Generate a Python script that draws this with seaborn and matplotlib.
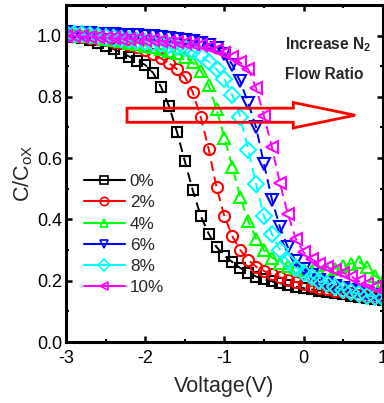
import matplotlib
matplotlib.use("Agg")
import matplotlib.pyplot as plt
import pandas as pd
import seaborn as sns
from matplotlib.lines import Line2D
from matplotlib.patches import FancyArrow
from matplotlib.ticker import MultipleLocator

# Gate voltage sweep (V)
voltage = [-3.0, -2.9, -2.8, -2.7, -2.6, -2.5, -2.4, -2.3, -2.2, -2.1,
           -2.0, -1.9, -1.8, -1.7, -1.6, -1.5, -1.4, -1.3, -1.2, -1.1,
           -1.0, -0.9, -0.8, -0.7, -0.6, -0.5, -0.4, -0.3, -0.2, -0.1,
           0.0, 0.1, 0.2, 0.3, 0.4, 0.5, 0.6, 0.7, 0.8, 0.9, 1.0]

# Normalised capacitance C/Cox for each N2 flow ratio
c_0pct = [1.000, 0.996, 0.991, 0.984, 0.975, 0.966, 0.956, 0.944, 0.931, 0.918,
          0.904, 0.878, 0.832, 0.770, 0.686, 0.590, 0.495, 0.412, 0.354, 0.310,
          0.282, 0.261, 0.242, 0.226, 0.214, 0.205, 0.198, 0.192, 0.186, 0.181,
          0.176, 0.172, 0.168, 0.164, 0.160, 0.156, 0.152, 0.148, 0.144, 0.140, 0.136]
c_2pct = [1.000, 0.998, 0.995, 0.992, 0.988, 0.984, 0.980, 0.975, 0.969, 0.962,
          0.953, 0.940, 0.925, 0.910, 0.890, 0.865, 0.815, 0.735, 0.630, 0.505,
          0.410, 0.345, 0.300, 0.268, 0.246, 0.232, 0.221, 0.211, 0.203, 0.196,
          0.190, 0.184, 0.178, 0.173, 0.168, 0.163, 0.159, 0.155, 0.151, 0.147, 0.143]
c_4pct = [1.005, 1.003, 1.000, 0.997, 0.994, 0.990, 0.986, 0.982, 0.977, 0.972,
          0.967, 0.962, 0.956, 0.950, 0.942, 0.930, 0.912, 0.885, 0.838, 0.760,
          0.665, 0.572, 0.472, 0.395, 0.338, 0.300, 0.276, 0.259, 0.248, 0.241,
          0.236, 0.233, 0.232, 0.234, 0.240, 0.247, 0.256, 0.261, 0.245, 0.216, 0.200]
c_6pct = [1.010, 1.009, 1.008, 1.007, 1.006, 1.005, 1.004, 1.003, 1.002, 1.001,
          1.000, 0.998, 0.995, 0.993, 0.990, 0.985, 0.982, 0.977, 0.970, 0.960,
          0.940, 0.905, 0.850, 0.780, 0.700, 0.580, 0.465, 0.375, 0.310, 0.265,
          0.237, 0.218, 0.203, 0.192, 0.183, 0.176, 0.169, 0.163, 0.158, 0.153, 0.148]
c_8pct = [1.008, 1.006, 1.004, 1.001, 0.998, 0.995, 0.992, 0.989, 0.986, 0.983,
          0.980, 0.977, 0.973, 0.969, 0.964, 0.958, 0.950, 0.935, 0.915, 0.890,
          0.857, 0.806, 0.735, 0.628, 0.515, 0.410, 0.352, 0.300, 0.266, 0.243,
          0.225, 0.211, 0.200, 0.191, 0.180, 0.170, 0.163, 0.157, 0.152, 0.148, 0.144]
c_10pct = [1.000, 0.999, 0.997, 0.996, 0.994, 0.993, 0.991, 0.990, 0.989, 0.987,
           0.986, 0.984, 0.982, 0.980, 0.978, 0.977, 0.973, 0.968, 0.962, 0.954,
           0.944, 0.930, 0.912, 0.890, 0.828, 0.738, 0.635, 0.520, 0.418, 0.337,
           0.293, 0.271, 0.256, 0.244, 0.235, 0.226, 0.214, 0.199, 0.188, 0.179, 0.171]

ratio_labels = ["0%", "2%", "4%", "6%", "8%", "10%"]
series = [c_0pct, c_2pct, c_4pct, c_6pct, c_8pct, c_10pct]
colors = ["#000000", "#ff0000", "#00ff00", "#0000ff", "#00ffff", "#ff00ff"]
markers = ["s", "o", "^", "v", "D", "<"]
marker_sizes = [7.5, 8.0, 9.0, 9.0, 8.0, 9.0]

df = pd.DataFrame({
    "Voltage": voltage * len(series),
    "C": [v for s in series for v in s],
    "Ratio": [lab for lab in ratio_labels for _ in voltage],
})

sns.set_theme(style="ticks")
plt.rcParams["font.family"] = ["Liberation Sans", "DejaVu Sans"]
plt.rcParams["mathtext.fontset"] = "custom"
plt.rcParams["mathtext.rm"] = "Liberation Sans"
plt.rcParams["mathtext.it"] = "Liberation Sans:italic"
plt.rcParams["mathtext.bf"] = "Liberation Sans:bold"

fig = plt.figure(figsize=(3.84, 4.03), dpi=100)
ax = fig.add_axes([0.172, 0.151, 0.825, 0.837])

for lab, col, mk, ms in zip(ratio_labels, colors, markers, marker_sizes):
    sub = df[df["Ratio"] == lab]
    sns.lineplot(data=sub, x="Voltage", y="C", ax=ax, color=col,
                 marker=mk, markersize=ms, markerfacecolor="none",
                 markeredgecolor=col, markeredgewidth=1.5,
                 linestyle=(0, (5, 3)), linewidth=1.4,
                 estimator=None, sort=False, legend=False)

ax.set_xlim(-3, 1)
ax.set_ylim(0, 1.1)
ax.xaxis.set_major_locator(MultipleLocator(1))
ax.xaxis.set_minor_locator(MultipleLocator(0.5))
ax.yaxis.set_major_locator(MultipleLocator(0.2))
ax.yaxis.set_minor_locator(MultipleLocator(0.1))
ax.xaxis.set_major_formatter(matplotlib.ticker.FormatStrFormatter("%g"))
ax.yaxis.set_major_formatter(matplotlib.ticker.FormatStrFormatter("%.1f"))

for sp in ax.spines.values():
    sp.set_visible(True)
    sp.set_linewidth(2.2)
    sp.set_color("black")
ax.tick_params(which="both", direction="in", top=True, right=True,
               colors="black", labelsize=13, labelcolor="black")
ax.tick_params(which="major", length=4, width=1.8)
ax.tick_params(which="minor", length=2.5, width=1.5)
ax.tick_params(axis="x", pad=6)
ax.tick_params(axis="y", pad=3)

ax.set_xlabel("Voltage(V)", fontsize=15.5, labelpad=6)
ax.set_ylabel(r"C/C$_\mathrm{oX}$", fontsize=15.5, labelpad=1)

# Hollow arrow indicating the shift with increasing N2 flow
arrow = FancyArrow(-2.23, 0.74, 2.88, 0, width=0.046, head_width=0.083,
                   head_length=0.78, length_includes_head=True,
                   facecolor="none", edgecolor="#ff0000", linewidth=2.0,
                   zorder=10)
ax.add_patch(arrow)

ax.text(0.69, 0.881, r"Increase N$_\mathbf{2}$", transform=ax.transAxes,
        fontsize=11.2, fontweight="bold", ha="left", va="center")
ax.text(0.69, 0.792, "Flow Ratio", transform=ax.transAxes,
        fontsize=11.2, fontweight="bold", ha="left", va="center")

handles = [Line2D([], [], color=c, marker=m, markersize=6,
                  markerfacecolor="none", markeredgecolor=c,
                  markeredgewidth=1.2, linewidth=1.5)
           for c, m in zip(colors, markers)]
ax.legend(handles, ratio_labels, loc="upper left",
          bbox_to_anchor=(0.045, 0.508), frameon=False, fontsize=12.3,
          handlelength=2.4, handletextpad=0.3, labelspacing=0.36,
          borderpad=0.2, borderaxespad=0)

fig.savefig("out.png", dpi=100)
